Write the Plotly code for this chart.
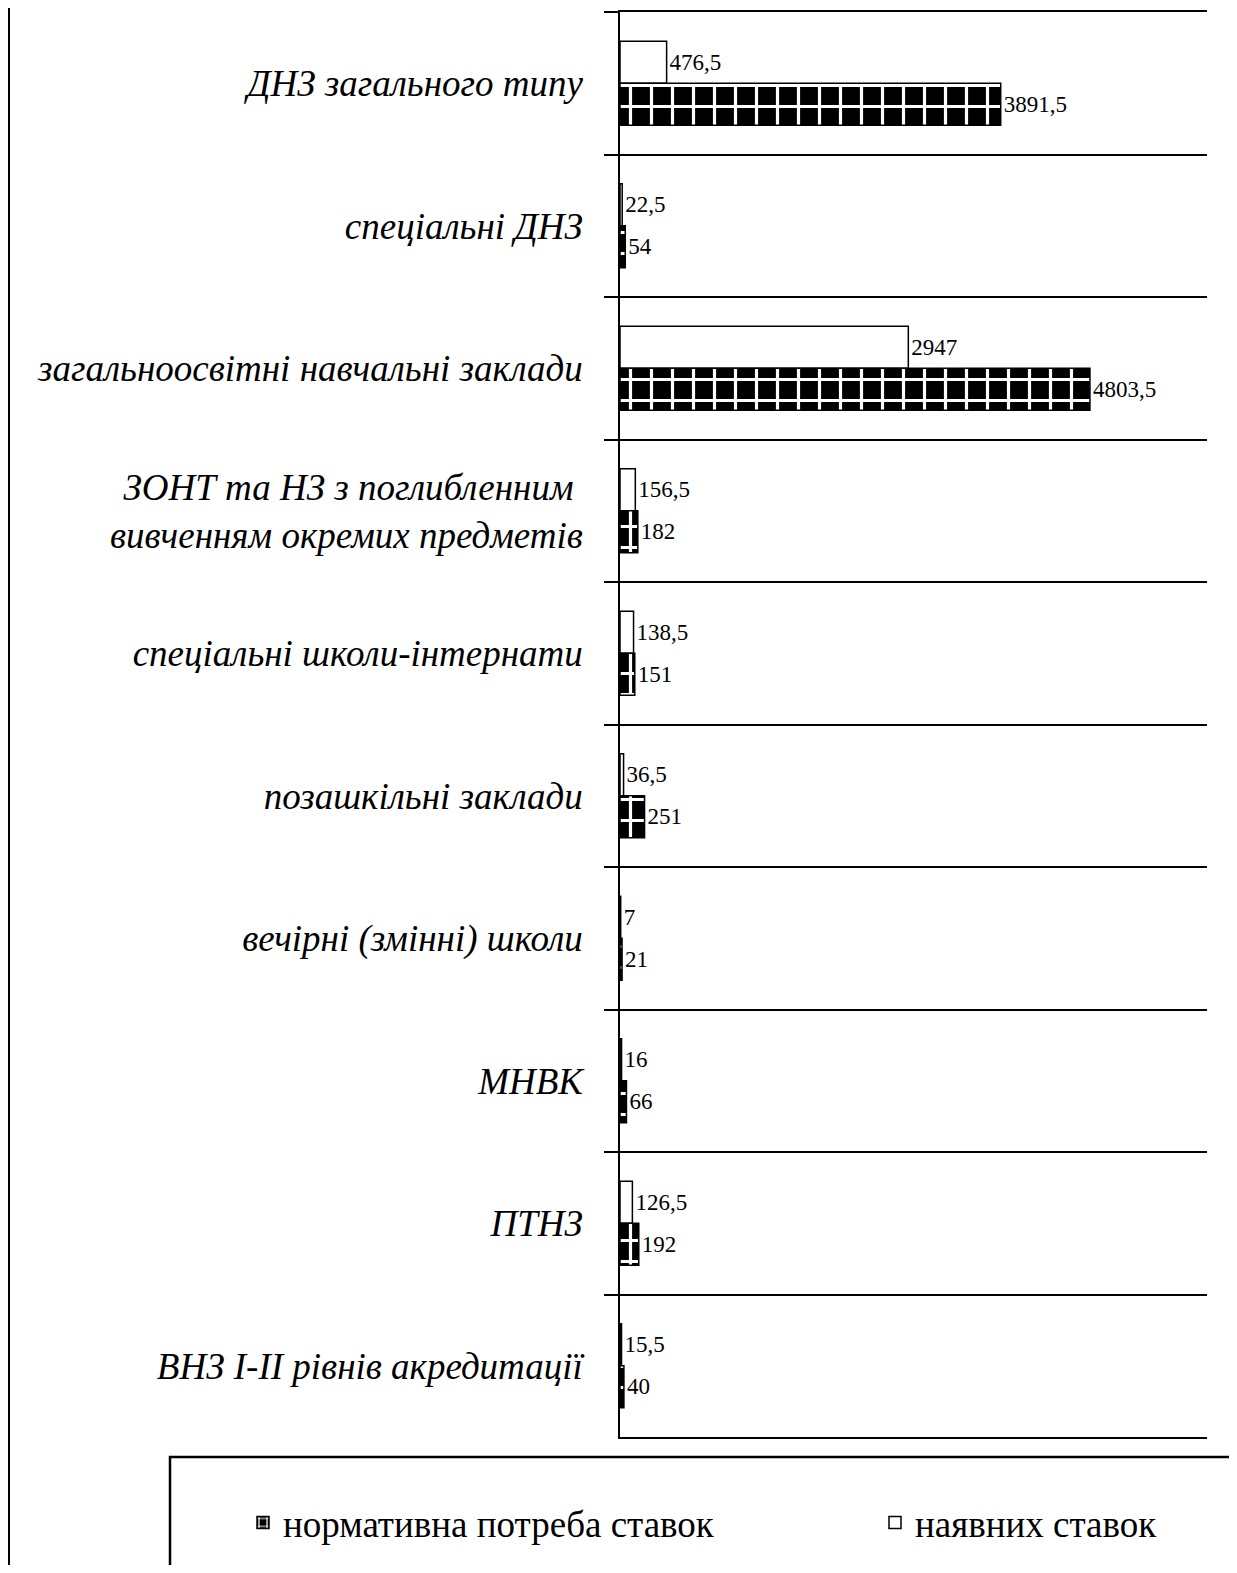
import plotly.graph_objects as go

categories = [
    "ДНЗ загального типу",
    "спеціальні ДНЗ",
    "загальноосвітні навчальні заклади",
    "ЗОНТ та НЗ з поглибленним <br>вивченням окремих предметів",
    "спеціальні школи-інтернати",
    "позашкільні заклади",
    "вечірні (змінні) школи",
    "МНВК",
    "ПТНЗ",
    "ВНЗ І-ІІ рівнів акредитації",
]
available = [476.5, 22.5, 2947, 156.5, 138.5, 36.5, 7, 16, 126.5, 15.5]
normative = [3891.5, 54, 4803.5, 182, 151, 251, 21, 66, 192, 40]
series_names = ["нормативна потреба ставок", "наявних ставок"]


def fmt(v):
    return f"{v:g}".replace(".", ",")


SERIF = "Liberation Serif"
OFF = 8  # page body margin

fig = go.Figure()
fig.add_trace(go.Bar(
    y=categories, x=available, orientation="h", name=series_names[1],
    text=[fmt(v) for v in available], textposition="outside",
    textfont=dict(family=SERIF, size=23, color="black"),
    marker=dict(color="white", line=dict(color="black", width=1.5)),
    legend="legend2", cliponaxis=False,
))
fig.add_trace(go.Bar(
    y=categories, x=normative, orientation="h", name=series_names[0],
    text=[fmt(v) for v in normative], textposition="outside",
    textfont=dict(family=SERIF, size=23, color="black"),
    marker=dict(color="black", line=dict(color="black", width=1.5),
                pattern=dict(shape="+", bgcolor="black", fgcolor="white",
                             fgopacity=1, size=21, solidity=0.28)),
    legend="legend", cliponaxis=False,
))

W, H = 1237 - 2 * OFF, 1573 - 2 * OFF
L, T = 620 - OFF, 10 - OFF
R = W - (1207 - OFF)
B = H - (1437 - OFF)
pw = W - L - R
ph = H - T - B


def px(x):
    return (x - OFF - L) / pw


def py(y):
    return (H - B - (y - OFF)) / ph


legend_font = dict(family=SERIF, size=37, color="black")

fig.update_layout(
    width=W, height=H,
    margin=dict(l=L, r=R, t=T, b=B),
    paper_bgcolor="white", plot_bgcolor="white",
    barmode="group", bargap=0.41, bargroupgap=0,
    showlegend=True,
    legend=dict(x=px(243), xanchor="left", y=py(1523), yanchor="middle",
                font=legend_font, bgcolor="rgba(0,0,0,0)", borderwidth=0),
    legend2=dict(x=px(875), xanchor="left", y=py(1523), yanchor="middle",
                 font=legend_font, bgcolor="rgba(0,0,0,0)", borderwidth=0),
    xaxis=dict(range=[0, 6000], showgrid=False, showticklabels=False,
               zeroline=False, showline=True, mirror=True, linecolor="black",
               linewidth=1.5, ticks=""),
    yaxis=dict(autorange="reversed", tickson="boundaries", ticks="outside",
               ticklen=14, tickcolor="black", tickwidth=1.5,
               showgrid=True, gridcolor="black", gridwidth=1.5,
               showline=True, linecolor="black", linewidth=1.5,
               tickfont=dict(family=SERIF, size=37, color="black", style="italic"),
               ticklabelstandoff=28),
    shapes=[
        dict(type="line", xref="paper", yref="paper", x0=px(9), x1=px(9),
             y0=py(0), y1=py(1600), line=dict(color="black", width=2)),
        dict(type="rect", xref="paper", yref="paper", x0=px(170), x1=px(1260),
             y0=py(1457), y1=py(1600), line=dict(color="black", width=2.5),
             fillcolor="rgba(0,0,0,0)"),
    ],
)

fig.write_html("out.html")
